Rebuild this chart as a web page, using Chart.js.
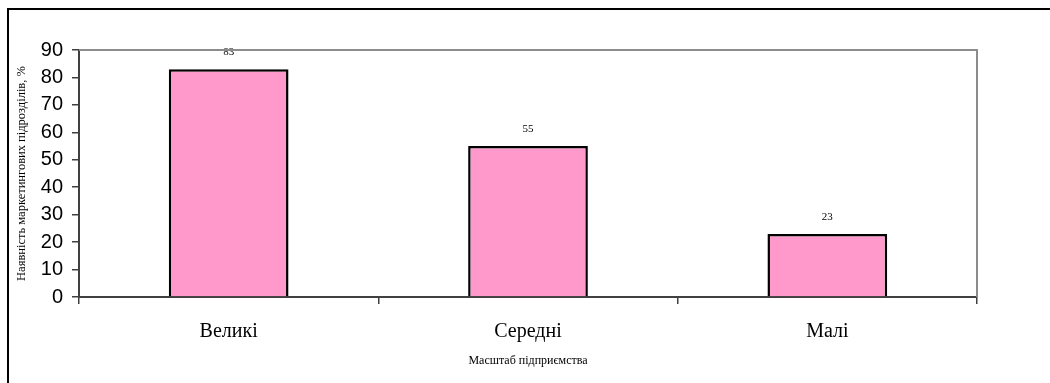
<!DOCTYPE html>
<html>
<head>
<meta charset="utf-8">
<script src="https://cdn.jsdelivr.net/npm/chart.js@4.4.0/dist/chart.umd.min.js"></script>
<style>
  body { margin: 0; background: #fff; }
  #wrap { width: 1050px; height: 383px; }
</style>
</head>
<body>
<div id="wrap"><canvas id="scaleChart" width="1050" height="383"></canvas></div>
<script>
const categories = ["Великі", "Середні", "Малі"];
const shares = [83, 55, 23];
const yTicks = [0, 10, 20, 30, 40, 50, 60, 70, 80, 90];

const serif = "'Liberation Serif', 'Times New Roman', serif";
const sans = "'Liberation Sans', Arial, sans-serif";

// outer frame (only left and top edges are visible in the picture)
const framePlugin = {
  id: "frame",
  beforeDraw(chart) {
    const ctx = chart.ctx;
    ctx.save();
    ctx.fillStyle = "#000";
    ctx.fillRect(7, 8, 2, 383);
    ctx.fillRect(7, 8, 1050, 2);
    ctx.restore();
  },
  afterDraw(chart) {
    const a = chart.chartArea;
    const ctx = chart.ctx;
    ctx.save();
    ctx.strokeStyle = "#8c8c8c";
    ctx.lineWidth = 2;
    ctx.beginPath();
    ctx.moveTo(a.left, a.top);
    ctx.lineTo(a.right, a.top);
    ctx.lineTo(a.right, a.bottom);
    ctx.stroke();
    ctx.restore();
  },
};

const valueLabels = {
  id: "valueLabels",
  afterDatasetsDraw(chart) {
    const ctx = chart.ctx;
    const meta = chart.getDatasetMeta(0);
    ctx.save();
    ctx.font = "11px " + serif;
    ctx.fillStyle = "#000";
    ctx.textAlign = "center";
    ctx.textBaseline = "middle";
    meta.data.forEach((bar, i) => {
      ctx.fillText(String(shares[i]), bar.x, bar.y - 17);
    });
    ctx.restore();
  },
};

const ctx = document.getElementById("scaleChart").getContext("2d");
new Chart(ctx, {
  type: "bar",
  data: {
    labels: categories,
    datasets: [
      {
        data: shares,
        backgroundColor: "#ff99cc",
        borderColor: "#000",
        borderWidth: 2.5,
        categoryPercentage: 0.8,
        barPercentage: 0.5,
      },
    ],
  },
  options: {
    responsive: false,
    animation: false,
    layout: { padding: { left: 0, top: 50, right: 73, bottom: 0 } },
    plugins: {
      legend: { display: false },
      tooltip: { enabled: false },
    },
    scales: {
      x: {
        grid: {
          drawOnChartArea: false,
          drawTicks: true,
          tickLength: 7,
          color: "#404040",
          lineWidth: 1.5,
        },
        border: { display: true, color: "#404040", width: 2 },
        ticks: {
          color: "#000",
          font: { family: serif, size: 20 },
          padding: 16,
          maxRotation: 0,
        },
        title: {
          display: true,
          text: "Масштаб підприємства",
          color: "#000",
          font: { family: serif, size: 12 },
          padding: { top: 0, bottom: 15 },
        },
        afterFit(scale) {
          scale.height = 86;
        },
      },
      y: {
        min: 0,
        max: 90,
        afterBuildTicks(scale) {
          scale.ticks = yTicks.map((v) => ({ value: v }));
        },
        grid: {
          drawOnChartArea: false,
          drawTicks: true,
          tickLength: 7,
          color: "#404040",
          lineWidth: 1.5,
        },
        border: { display: true, color: "#404040", width: 2 },
        ticks: {
          color: "#000",
          font: { family: sans, size: 20 },
          padding: 9,
        },
        title: {
          display: true,
          text: "Наявність маркетингових підрозділів, %",
          color: "#000",
          font: { family: serif, size: 12.5 },
          padding: { top: 14.5, bottom: 0 },
        },
        afterFit(scale) {
          scale.width = 79;
        },
      },
    },
  },
  plugins: [framePlugin, valueLabels],
});
</script>
</body>
</html>
